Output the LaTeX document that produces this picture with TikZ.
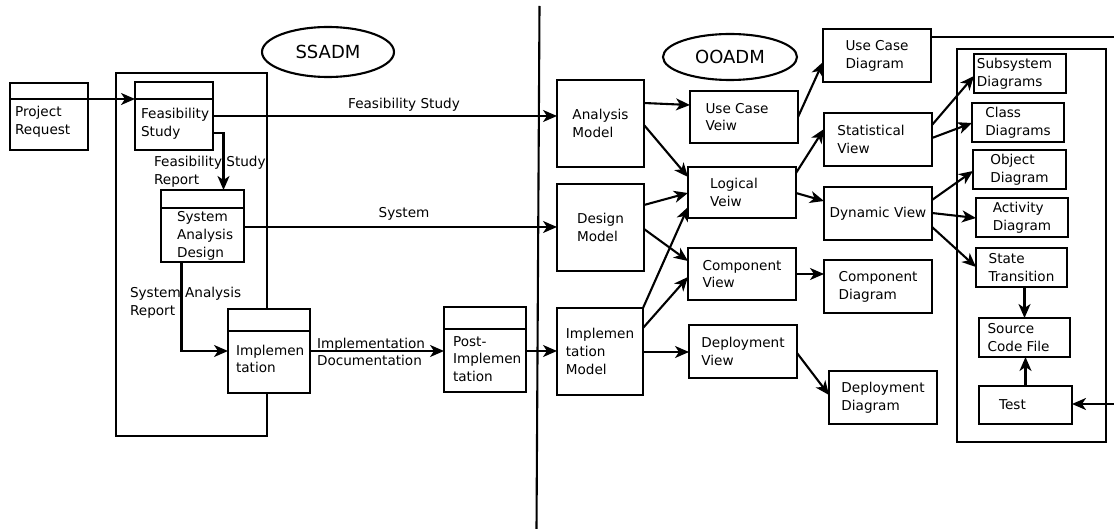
\documentclass[tikz,border=0pt]{standalone}
\usepackage{fontspec}
\setmainfont{DejaVu Sans}
\usetikzlibrary{shapes.geometric, arrows.meta, calc}

\begin{document}
\begin{tikzpicture}[x=1pt, y=-1pt,
  line width=2.1pt,
  txt/.style={font=\fontsize{13.6}{17.8}\selectfont},
  box/.style={draw, rectangle, inner sep=0pt, outer sep=0pt, align=left, txt},
  frame/.style={draw, rectangle, inner sep=0pt, outer sep=0pt},
  lbl/.style={inner sep=0pt, align=left, txt},
  arr/.style={-{Stealth[length=14pt, width=12pt, inset=4pt]}},
  oval/.style={draw, ellipse, inner sep=0pt, font=\fontsize{18}{20}\selectfont}
]
\useasboundingbox (0,0) rectangle (1114,529);

% ---------- dividing line between the two methods ----------
\coordinate (divtop) at (539.5,6);
\coordinate (divbot) at (536.5,529);
\draw (divtop) -- (divbot);

% ---------- titles ----------
\node[oval, minimum width=132pt, minimum height=50pt] (ssadm) at (328,52) {SSADM};
\node[oval, minimum width=134pt, minimum height=46pt] (ooadm) at (730,57) {OOADM};

% ---------- SSADM side ----------
\node[frame, minimum width=151pt, minimum height=363pt] (ssframe) at (191.5,254.5) {};

\node[frame, minimum width=78pt, minimum height=67pt] (pr) at (49,116.5) {};
\draw ([yshift=-16pt]pr.north west) -- ([yshift=-16pt]pr.north east);
\node[lbl, anchor=west] (prt) at (14,122) {Project\\Request};

\node[frame, minimum width=78pt, minimum height=68pt] (fs) at (174,116) {};
\draw ([yshift=-17pt]fs.north west) -- ([yshift=-17pt]fs.north east);
\node[lbl, anchor=west] (fst) at (140,124) {Feasibility\\Study};

\node[frame, minimum width=83pt, minimum height=72pt] (sad) at (202.5,226) {};
\draw ([yshift=-18pt]sad.north west) -- ([yshift=-18pt]sad.north east);
\node[lbl, anchor=west] (sadt) at (176,236) {System\\Analysis\\Design};

% this box sits on the group border, so it is filled to hide the border behind it
\node[frame, fill=white, minimum width=82pt, minimum height=84pt] (impl) at (269,351) {};
\draw ([yshift=-22pt]impl.north west) -- ([yshift=-22pt]impl.north east);
\node[lbl, anchor=west] (implt) at (235,359) {Implemen\\tation};

\node[frame, minimum width=82pt, minimum height=85pt] (post) at (485,349.5) {};
\draw ([yshift=-22pt]post.north west) -- ([yshift=-22pt]post.north east);
\node[lbl, anchor=west] (postt) at (452,359) {Post-\\Implemen\\tation};

% ---------- OOADM side: models ----------
\node[box, minimum width=87pt, minimum height=87pt] (am) at (600.5,123.5) {Analysis\\Model};
\node[box, minimum width=87pt, minimum height=87pt] (dm) at (600.5,227.5) {Design\\Model};
\node[box, minimum width=86pt, minimum height=87pt] (imm) at (600,351.5) {Implemen\\tation\\Model};

% ---------- OOADM side: views ----------
\node[box, minimum width=108pt, minimum height=52pt] (ucv) at (744,117) {Use Case\hspace*{14pt}\\Veiw};
\node[box, minimum width=108pt, minimum height=51pt] (lv) at (742,192.5) {Logical\hspace*{16pt}\\Veiw};
\node[box, minimum width=108pt, minimum height=52pt] (cv) at (742,274) {Component\\View};
\node[box, minimum width=108pt, minimum height=53pt] (dv) at (743,351.5) {Deployment\\View};

% ---------- OOADM side: diagrams ----------
\node[box, minimum width=108pt, minimum height=53pt] (ucd) at (877,55.5) {Use Case\\Diagram};
\node[box, minimum width=108pt, minimum height=53pt] (sv) at (878,139.5) {Statistical\hspace*{14pt}\\View};
\node[box, minimum width=108pt, minimum height=53pt] (dyv) at (878,213.5) {Dynamic View};
\node[box, minimum width=108pt, minimum height=53pt] (cd) at (878,286.5) {Component\\Diagram};
\node[box, minimum width=108pt, minimum height=53pt] (dd) at (883,397.5) {Deployment\\Diagram};

% ---------- OOADM side: detailed design group ----------
\node[frame, minimum width=149pt, minimum height=393pt] (ooframe) at (1031.5,245.5) {};
\node[box, minimum width=92pt, minimum height=39pt] (ssd) at (1020,73.5) {Subsystem\hspace*{11pt}\\Diagrams};
\node[box, minimum width=92pt, minimum height=39pt] (cld) at (1018,122.5) {Class\\Diagrams};
\node[box, minimum width=93pt, minimum height=39pt] (od) at (1019.5,169.5) {Object\\Diagram};
\node[box, minimum width=92pt, minimum height=39pt] (ad) at (1022,217.5) {Activity\\Diagram};
\node[box, minimum width=91pt, minimum height=39pt] (st) at (1021.5,267.5) {State\\Transition};
\node[box, minimum width=91pt, minimum height=39pt] (scf) at (1024.5,337.5) {Source\\Code File\hspace*{12pt}};
\node[box, minimum width=93pt, minimum height=38pt] (test) at (1025.5,405) {Test\hspace*{26pt}};

\coordinate (ucdout) at (1114,37);
\coordinate (testin) at (1114,404);

% ---------- SSADM connectors ----------
\draw[arr] (pr.east |- 0,99) -- (fs.west |- 0,99);
\draw[arr] (fs.east |- 0,116) -- (am.west |- 0,116);
\node[lbl] (lfs) at (404,105) {Feasibility Study};
\draw[arr] (fs.east |- 0,133) -| ([xshift=21pt]sad.north);
\node[lbl, anchor=west] (lfsr) at (153,172) {Feasibility Study\\Report};
\draw[arr] (sad.east |- 0,227) -- (dm.west |- 0,227);
\node[lbl] (lsys) at (404,214) {System};
\draw[arr] ([xshift=-21pt]sad.south) |- (impl.west |- 0,351);
\node[lbl, anchor=west] (lsar) at (129,303) {System Analysis\\Report};
\draw[arr] (impl.east |- 0,351) -- (post.west |- 0,351);
\node[lbl, anchor=west] (lidoc) at (316,352) {Implementation\\Documentation};
\draw[arr] (post.east |- 0,351) -- (imm.west |- 0,351);

% ---------- OOADM connectors ----------
\draw[arr] (am.east |- 0,103) -- (ucv.west |- 0,105);
\draw[arr] (am.east |- 0,125) -- (lv.west |- 0,177);
\draw[arr] (dm.east |- 0,205) -- (lv.west |- 0,193);
\draw[arr] (dm.east |- 0,229) -- (cv.west |- 0,261);
\draw[arr] (imm.north east) -- (lv.west |- 0,207);
\draw[arr] (imm.east |- 0,328) -- (cv.west |- 0,277);
\draw[arr] (imm.east |- 0,352) -- (dv.west |- 0,352);
\draw[arr] (ucv.east |- 0,117) -- (ucd.west |- 0,62);
\draw[arr] (lv.east |- 0,173) -- (sv.west |- 0,129);
\draw[arr] (lv.east |- 0,193) -- (dyv.west |- 0,201);
\draw[arr] (cv.east |- 0,274) -- (cd.west |- 0,274);
\draw[arr] (dv.east |- 0,353) -- (dd.west |- 0,395);
\draw[arr] (sv.east |- 0,125) -- (ssd.west |- 0,76);
\draw[arr] (sv.east |- 0,138) -- (cld.west |- 0,123);
\draw[arr] (dyv.east |- 0,200) -- (od.west |- 0,171);
\draw[arr] (dyv.east |- 0,213) -- (ad.west |- 0,218);
\draw[arr] (dyv.east |- 0,227) -- (st.west |- 0,267);
\draw[arr] (scf.north |- st.south) -- (scf.north);
\draw[arr] (test.north) -- (test.north |- scf.south);
\draw (ucd.east |- 0,37) -- (ucdout);
\draw[arr] (testin) -- (test.east |- 0,404);

\end{tikzpicture}
\end{document}
